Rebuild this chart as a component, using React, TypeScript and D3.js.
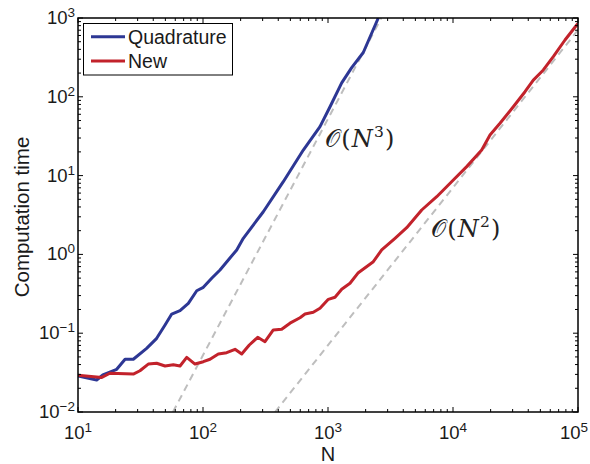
import React from "react";
import * as d3 from "d3";

const quadratureN = [10, 14.1, 15.8, 20.4, 23.8, 27.7, 35.4, 42.6, 49.7, 56.2, 65.5, 76.3, 89.1, 100.6, 117.4, 136.8, 159.4, 186.1, 210.1, 303.7, 438.9, 634.5, 863, 1038, 1287, 1547, 1916, 2526];
const quadratureTime = [0.0286, 0.0255, 0.0295, 0.0348, 0.0467, 0.0467, 0.0643, 0.0861, 0.127, 0.175, 0.193, 0.239, 0.346, 0.382, 0.498, 0.634, 0.849, 1.14, 1.6, 3.48, 8.37, 21.1, 41.8, 74.8, 150, 235, 365, 1000];

const newN = [10, 15.5, 18, 27.7, 31.3, 36.5, 42.6, 49.7, 57.9, 65.5, 74.1, 86.3, 100.6, 113.8, 132.6, 154.7, 180.3, 204, 234.6, 273.9, 313.3, 365.1, 426.1, 496.6, 597, 654.6, 762.7, 863, 1006, 1138, 1287, 1500, 1748, 2304, 2689, 3436, 4262, 5619, 7408, 10060, 12870, 16970, 19770, 23770, 30370, 37670, 43910, 52790, 63450, 78700, 97640, 100000];
const newTime = [0.0292, 0.0275, 0.031, 0.0303, 0.0334, 0.0406, 0.0415, 0.0384, 0.0398, 0.0384, 0.0494, 0.0406, 0.0435, 0.0467, 0.0544, 0.0566, 0.0625, 0.0544, 0.0708, 0.0887, 0.078, 0.11, 0.112, 0.134, 0.157, 0.175, 0.184, 0.207, 0.269, 0.286, 0.361, 0.43, 0.586, 0.808, 1.14, 1.6, 2.18, 3.66, 5.4, 8.79, 13, 21.1, 32.7, 46.1, 74.8, 116, 163, 219, 323, 526, 815, 850];

// guide lines, end points
const cubicN = [57.5, 2670];
const cubicTime = [0.01, 1000];
const quadraticN = [377, 100000];
const quadraticTime = [0.01, 704];

const xDecades = [1, 2, 3, 4, 5];
const yDecades = [-2, -1, 0, 1, 2, 3];

const W = 590;
const H = 464;
const m = { left: 78, right: 12, top: 18, bottom: 52 };
const FONT = "'Liberation Sans', Arial, Helvetica, sans-serif";
const BLUE = "#2D3794";
const RED = "#C2222B";

const pairs = (xs: number[], ys: number[]) => xs.map((v, i) => [v, ys[i]] as [number, number]);

export default function App() {
  const x = d3.scaleLog().domain([10, 1e5]).range([m.left, W - m.right]);
  const y = d3.scaleLog().domain([0.01, 1000]).range([H - m.bottom, m.top]);
  const line = d3
    .line<[number, number]>()
    .x((d) => x(d[0]))
    .y((d) => y(d[1]));

  const [x0, x1] = x.range();
  const [y0, y1] = y.range();
  const isMajor = (v: number) => Math.abs(Math.log10(v) - Math.round(Math.log10(v))) < 1e-9;

  return (
    <svg width={W} height={H} style={{ position: "absolute", left: 0, top: 0, background: "#fff" }}>
      <defs>
        <clipPath id="plot">
          <rect x={x0} y={y1} width={x1 - x0} height={y0 - y1} />
        </clipPath>
      </defs>

      <g clipPath="url(#plot)" fill="none">
        <path d={line(pairs(cubicN, cubicTime)) || ""} stroke="#BEBEBE" strokeWidth={2} strokeDasharray="7,5" />
        <path d={line(pairs(quadraticN, quadraticTime)) || ""} stroke="#BEBEBE" strokeWidth={2} strokeDasharray="7,5" />
        <path d={line(pairs(quadratureN, quadratureTime)) || ""} stroke={BLUE} strokeWidth={3} strokeLinejoin="round" />
        <path d={line(pairs(newN, newTime)) || ""} stroke={RED} strokeWidth={3} strokeLinejoin="round" />
      </g>

      {/* ticks, inside, all four sides */}
      <g stroke="#000" strokeWidth={1}>
        {x.ticks().map((t) => {
          const len = isMajor(t) ? 5 : 3;
          return (
            <g key={"xt" + t}>
              <line x1={x(t)} x2={x(t)} y1={y0} y2={y0 - len} />
              <line x1={x(t)} x2={x(t)} y1={y1} y2={y1 + len} />
            </g>
          );
        })}
        {y.ticks().map((t) => {
          const len = isMajor(t) ? 5 : 3;
          return (
            <g key={"yt" + t}>
              <line x1={x0} x2={x0 + len} y1={y(t)} y2={y(t)} />
              <line x1={x1} x2={x1 - len} y1={y(t)} y2={y(t)} />
            </g>
          );
        })}
      </g>
      <rect x={x0} y={y1} width={x1 - x0} height={y0 - y1} fill="none" stroke="#000" strokeWidth={1.5} />

      <g fontFamily={FONT} fill="#1a1a1a">
        {xDecades.map((e) => (
          <text key={"xl" + e} x={Math.min(x(Math.pow(10, e)), W - 16)} y={y0 + 27} textAnchor="middle" fontSize={18.5}>
            10<tspan fontSize={13.5} dy={-7}>{e}</tspan>
          </text>
        ))}
        {yDecades.map((e) => (
          <text key={"yl" + e} x={x0 - 3} y={y(Math.pow(10, e)) + 6} textAnchor="end" fontSize={18.5}>
            10<tspan fontSize={13.5} dy={-7}>{e < 0 ? "\u2212" + -e : e}</tspan>
          </text>
        ))}
        <text x={(x0 + x1) / 2} y={H - 3} textAnchor="middle" fontSize={20}>N</text>
        <text transform={`translate(29,${(y0 + y1) / 2 + 2}) rotate(-90)`} textAnchor="middle" fontSize={20.5}>
          Computation time
        </text>
      </g>

      {/* legend */}
      <g fontFamily={FONT}>
        <rect x={83.5} y={23.5} width={149} height={51.5} fill="#fff" stroke="#000" strokeWidth={1} />
        <line x1={91} x2={125} y1={36.7} y2={36.7} stroke={BLUE} strokeWidth={3} />
        <line x1={91} x2={125} y1={61} y2={61} stroke={RED} strokeWidth={3} />
        <text x={128} y={43.5} fontSize={19.5} fill="#1a1a1a">Quadrature</text>
        <text x={128} y={68} fontSize={19.5} fill="#1a1a1a">New</text>
      </g>

      <g fontFamily="'DejaVu Serif', 'Liberation Serif', serif" fill="#222">
        <text x={325} y={147} fontSize={24} letterSpacing={1.2}>
          𝒪(<tspan fontStyle="italic">N</tspan><tspan fontSize={15.5} dy={-10}>3</tspan><tspan dy={10}>)</tspan>
        </text>
        <text x={431} y={237} fontSize={24} letterSpacing={1.2}>
          𝒪(<tspan fontStyle="italic">N</tspan><tspan fontSize={15.5} dy={-10}>2</tspan><tspan dy={10}>)</tspan>
        </text>
      </g>
    </svg>
  );
}
